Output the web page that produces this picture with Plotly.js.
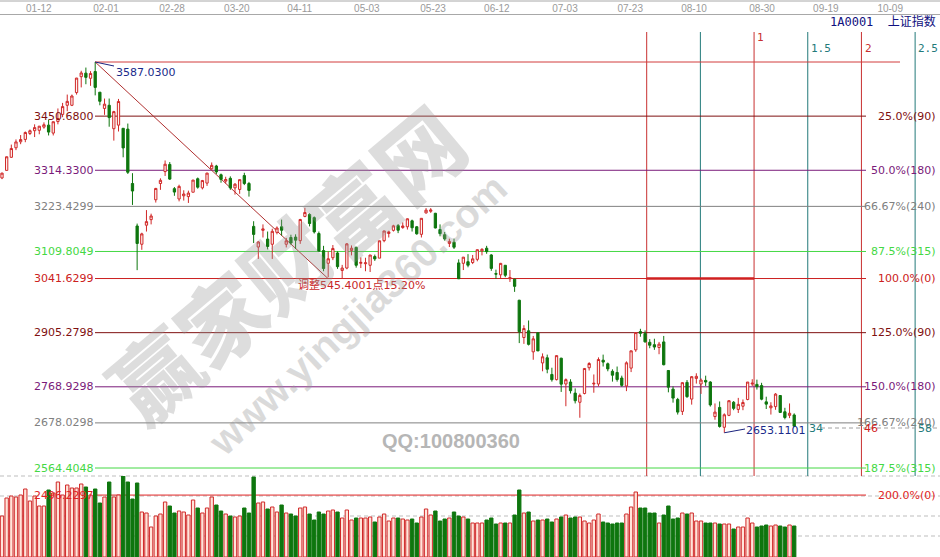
<!DOCTYPE html>
<html><head><meta charset="utf-8">
<script src="https://cdn.plot.ly/plotly-3.0.1.min.js"></script>
<style>html,body{margin:0;padding:0;background:#fff;}#chart{width:940px;height:557px;}</style>
</head><body><div id="chart"></div>
<script>
// ---- data (上证指数 daily, 2017-12-29 .. 2018-09-10) ----
const open = [3295,3314,3347,3371,3386,3392,3407,3414,3415,3423,
3428,3408,3437,3455,3478,3478,3510,3550,3559,3546,
3563,3511,3470,3478,3419,3428,3420,3418,3281,3174,
3128,3176,3190,3240,3281,3311,3329,3268,3242,3250,
3248,3259,3293,3270,3282,3318,3325,3303,3287,3294,
3270,3266,3301,3281,3173,3121,3163,3141,3128,3158,
3172,3128,3145,3146,3137,3198,3203,3195,3155,3112,
3080,3094,3106,3062,3068,3112,3120,3080,3079,3075,
3097,3093,3137,3155,3163,3175,3170,3172,3187,3172,
3153,3207,3211,3206,3165,3152,3130,3133,3081,3080,
3084,3082,3090,3111,3118,3101,3054,3051,3075,3041,
3040,2987,2893,2910,2857,2905,2829,2842,2800,2787,
2841,2776,2781,2753,2730,2752,2817,2776,2776,2836,
2827,2808,2805,2791,2771,2816,2862,2908,2903,2881,
2875,2868,2882,2810,2763,2737,2707,2780,2738,2790,
2776,2785,2781,2694,2717,2667,2697,2730,2712,2720,
2737,2776,2775,2772,2731,2716,2719,2747,2706,2697,
2698];
const high = [3308,3349,3379,3392,3403,3412,3417,3430,3426,3435,
3442,3437,3470,3484,3505,3505,3547,3565,3573,3564,
3587.03,3511,3495,3495,3464,3494,3420,3432,3307,3180,
3157,3214,3205,3270,3294,3339,3335,3272,3278,3264,
3263,3290,3296,3290,3308,3334,3328,3306,3298,3299,
3282,3291,3308,3285,3186,3136,3178,3160,3167,3173,
3190,3144,3152,3153,3192,3220,3206,3198,3160,3124,
3110,3126,3110,3076,3131,3125,3122,3095,3094,3101,
3102,3137,3162,3162,3177,3179,3183,3193,3190,3174,
3194,3219,3219,3207,3178,3159,3142,3142,3090,3096,
3103,3101,3115,3118,3124,3103,3064,3081,3075,3063,
3041,2988,2924,2936,2897,2906,2853,2850,2817,2848,
2842,2790,2788,2765,2752,2816,2831,2800,2843,2850,
2830,2813,2820,2797,2833,2860,2906,2915,2911,2889,
2890,2882,2897,2811,2770,2741,2780,2786,2796,2803,
2790,2797,2783,2727,2732,2702,2735,2733,2741,2737,
2781,2788,2787,2779,2744,2730,2753,2748,2716,2727,
2702];
const low = [3292,3314,3346,3365,3380,3385,3403,3398,3405,3419,
3402,3402,3430,3448,3463,3476,3505,3523,3531,3527,
3503,3478,3454,3424,3389,3412,3347,3305,3227,3062.74,
3114,3160,3178,3233,3265,3300,3290,3250,3236,3238,
3232,3259,3268,3266,3275,3316,3305,3283,3281,3265,
3253,3255,3277,3248,3131,3091,3145,3115,3091,3153,
3150,3120,3127,3116,3129,3196,3173,3155,3110,3060,
3045,3088,3066,3041,3065,3100,3069,3068,3060,3058,
3086,3093,3133,3145,3160,3156,3167,3165,3160,3152,
3145,3205,3207,3168,3148,3137,3121,3116,3041,3063,
3070,3078,3085,3100,3104,3061,3041,3043,3045,3033,
3008,2879,2877,2873,2837,2859,2808,2803,2782,2785,
2756,2720,2752,2727,2691,2750,2810,2754,2770,2820,
2808,2782,2782,2769,2758,2806,2857,2895,2880,2866,
2862,2851,2823,2755,2729,2699,2698,2741,2724,2777,
2751,2771,2719,2686,2666,2653.11,2695,2710,2703,2710,
2735,2771,2762,2735,2713,2699,2711,2703,2687,2690,
2669];
const close = [3307.17,3348.33,3369.11,3385.71,3391.75,3409.48,3413.90,3421.83,3425.34,3428.94,
3410.49,3436.59,3444.67,3474.75,3487.86,3501.36,3546.50,3559.47,3548.31,3558.13,
3523.00,3488.01,3480.83,3446.98,3462.08,3487.50,3370.65,3309.26,3262.05,3129.85,
3154.13,3184.96,3199.16,3268.56,3289.02,3329.57,3292.07,3259.41,3273.75,3254.53,
3256.93,3289.64,3271.67,3288.41,3307.17,3326.70,3310.24,3291.38,3291.11,3269.88,
3279.25,3290.64,3280.95,3263.48,3152.76,3133.72,3166.65,3122.29,3160.53,3168.90,
3163.18,3136.63,3131.11,3138.29,3190.32,3208.08,3180.16,3159.05,3110.65,3066.80,
3091.40,3117.38,3071.54,3068.01,3128.93,3117.97,3075.03,3082.23,3081.18,3100.86,
3091.03,3136.65,3161.50,3159.15,3174.41,3163.26,3174.03,3192.12,3169.57,3154.28,
3193.30,3213.84,3214.35,3168.96,3154.65,3141.30,3135.08,3120.46,3041.00,3095.47,
3075.14,3091.19,3114.21,3115.18,3109.50,3067.15,3052.78,3079.80,3049.80,3044.16,
3021.90,2907.82,2915.73,2875.81,2889.76,2859.34,2844.51,2813.18,2786.90,2847.42,
2775.56,2786.89,2759.13,2733.88,2747.23,2815.11,2827.63,2777.77,2837.66,2831.18,
2814.04,2798.13,2787.26,2772.55,2829.27,2859.54,2905.56,2903.65,2882.23,2873.59,
2869.05,2876.40,2824.53,2768.02,2740.44,2705.16,2779.37,2744.07,2794.38,2795.31,
2785.87,2780.96,2723.26,2705.19,2668.97,2698.47,2733.95,2714.61,2724.62,2729.43,
2780.90,2777.98,2769.30,2737.74,2725.25,2720.73,2750.58,2704.34,2691.59,2702.30,
2669.48];
const volume = [41,59,61,60,62,68,56,61,51,51,
67,64,75,62,72,69,69,73,70,62,
68,54,60,75,60,62,81,75,58,74,
45,44,30,41,43,55,51,44,46,45,
42,57,49,44,49,60,52,46,43,41,
40,41,49,44,80,54,55,48,50,45,
52,44,43,41,49,50,43,37,45,43,
46,47,45,39,47,37,39,39,39,40,
35,40,43,36,39,39,38,37,38,34,
40,48,42,46,36,38,39,45,41,40,
38,34,34,34,37,39,33,34,34,34,
42,67,44,45,36,37,37,38,35,38,
40,42,39,40,40,36,34,37,43,35,
34,33,34,34,43,50,65,49,49,44,
44,34,42,51,38,39,44,43,44,36,
36,34,34,34,33,33,33,28,30,30,
39,34,30,31,32,31,32,31,30,32,
31];
const tickLabels = ['01-12','02-01','02-28','03-20','04-11','05-03','05-23','06-12','07-03','07-23','08-10','08-30','09-19','10-09'];
const tickPos = [7.9,22.3,36.5,50.4,63.9,78.3,92.5,106.2,120.8,134.8,148.5,163.1,176.8,190.6];

const fibPrice = [3587.03,3450.68,3314.33,3223.4299,3109.8049,3041.6299,2905.2798,2768.9298,2678.0298,2564.4048,2496.2297];
const fibLeft  = ['','3450.6800','3314.3300','3223.4299','3109.8049','3041.6299','2905.2798','2768.9298','2678.0298','2564.4048','2496.2297'];
const fibRight = ['','25.0%(90)','50.0%(180)','66.67%(240)','87.5%(315)','100.0%(0)','125.0%(90)','150.0%(180)','166.67%(240)','187.5%(315)','200.0%(0)'];
const cycleRatio = [0,0.5,1,1.5,2,2.5];
const cycleLabel = ['','','1','1.5','2','2.5'];
const peakText = '3587.0300';
const lowText = '2653.1101';
const adjustText = '调整545.4001点15.20%';
const countLabels = ['34','46','58'];
const titleText = '1A0001  上证指数';

// ---- styles / geometry ----
const fibColor = ['#d23c3c','#7f1010','#7a1a7a','#808080','#44d844','#cc2020','#7f1010','#7a1a7a','#808080','#44d844','#e02424'];
const W = 940, H = 557;
const PX = 4.66, X0 = 2;            // candle spacing
const idxAt = px => (px - X0) / PX;
const PS = 2.518781;                // price units per pixel
const priceAt = py => 3587.03 - (py - 62) * PS;
const py2paper = py => 1 - py / H;
const idx = open.map((_, i) => i);
const up = idx.map(i => close[i] >= open[i]);
const RED = '#d02828', GREEN = '#0e760e';

const shapes = [];
const annotations = [];
// top frame lines
[1, 14.5].forEach(py => shapes.push({type:'line', xref:'paper', yref:'paper', x0:0, x1:1, y0:py2paper(py), y1:py2paper(py), line:{color:'#a8a8a8', width:1}, layer:'below'}));
// volume area dashed grid
[476, 496, 516, 536].forEach(py => shapes.push({type:'line', xref:'paper', yref:'paper', x0:0, x1:1, y0:py2paper(py), y1:py2paper(py), line:{color:'#bdbdbd', width:1, dash:'4px,3px'}, layer:'below'}));
// fib time cycle verticals
const cycBase = idxAt(646.7), cycUnit = 23.04;
cycleRatio.forEach((r, k) => {
  const xv = cycBase + r * cycUnit;
  const col = (k % 2 === 0) ? '#c83030' : '#237a7a';
  shapes.push({type:'line', xref:'x', yref:'paper', x0:xv, x1:xv, y0:py2paper(476), y1:py2paper(32), line:{color:col, width:1}, layer:'below'});
  if (cycleLabel[k]) annotations.push({xref:'x', yref:'paper', x:xv + 0.25, y:py2paper(k === 2 ? 38 : 48), xanchor:'left', yanchor:'middle', showarrow:false, text:cycleLabel[k], font:{family:'DejaVu Sans Mono', size:11, color:col}});
});
// fib price levels
fibPrice.forEach((p, i) => {
  shapes.push({type:'line', xref:'x', yref:'y', x0:idxAt(95), x1:idxAt(i === 0 ? 900 : 866), y0:p, y1:p, line:{color:fibColor[i], width:1}, layer:'below'});
  if (fibLeft[i]) annotations.push({xref:'x', yref:'y', x:idxAt(95), y:p, xanchor:'right', yanchor:'middle', showarrow:false, borderpad:0, text:fibLeft[i], font:{size:11, color:fibColor[i]}});
  if (fibRight[i]) annotations.push({xref:'paper', yref:'y', x:937 / W, y:p, xanchor:'right', yanchor:'middle', showarrow:false, borderpad:0, text:fibRight[i], font:{size:11, color:fibColor[i]}});
});
// thick 100% segment between cycle 0 and 1
shapes.push({type:'line', xref:'x', yref:'y', x0:cycBase, x1:cycBase + cycUnit, y0:fibPrice[5], y1:fibPrice[5], line:{color:'#d02020', width:2.5}, layer:'below'});
// diagonal retracement line
shapes.push({type:'line', xref:'x', yref:'y', x0:20, x1:idxAt(328), y0:high[20], y1:fibPrice[5], line:{color:'#b03030', width:1}, layer:'below'});
// peak marker
shapes.push({type:'line', xref:'x', yref:'y', x0:20, x1:idxAt(114), y0:high[20], y1:priceAt(66), line:{color:'#1a237e', width:1}});
annotations.push({xref:'x', yref:'y', x:idxAt(115), y:priceAt(72), xanchor:'left', yanchor:'middle', showarrow:false, borderpad:0, text:peakText, font:{size:11, color:'#1a2a8a'}});
// low marker
shapes.push({type:'line', xref:'x', yref:'y', x0:155, x1:idxAt(745), y0:low[155], y1:priceAt(429), line:{color:'#1a237e', width:1}});
annotations.push({xref:'x', yref:'y', x:idxAt(745), y:priceAt(430), xanchor:'left', yanchor:'middle', showarrow:false, borderpad:0, text:lowText, font:{size:11, color:'#1a2a8a'}});
shapes.push({type:'line', xref:'x', yref:'y', x0:idxAt(821), x1:idxAt(938), y0:priceAt(428), y1:priceAt(428), line:{color:'#a0a0a0', width:1, dash:'4px,3px'}});
[[808,'#237a7a'],[863,'#d02020'],[917,'#237a7a']].forEach((c, k) => annotations.push({xref:'x', yref:'y', x:idxAt(c[0]), y:priceAt(428), xanchor:'left', yanchor:'middle', showarrow:false, borderpad:0, text:countLabels[k], font:{size:11, color:c[1]}}));
// adjust text
annotations.push({xref:'x', yref:'y', x:idxAt(297), y:priceAt(285), xanchor:'left', yanchor:'middle', showarrow:false, borderpad:0, text:adjustText, font:{size:11, color:'#c82828'}});
// title
annotations.push({xref:'paper', yref:'paper', x:937 / W, y:py2paper(22), xanchor:'right', yanchor:'middle', showarrow:false, borderpad:0, text:titleText, font:{family:'DejaVu Sans Mono, Noto Sans CJK SC', size:12, color:'#101080'}});
// watermarks
annotations.push({xref:'paper', yref:'paper', x:285 / W, y:py2paper(262), xanchor:'center', yanchor:'middle', showarrow:false, textangle:-40, text:'赢家财富网', font:{family:'Noto Sans CJK SC', size:86, weight:900, color:'rgba(150,150,150,0.32)'}});
annotations.push({xref:'paper', yref:'paper', x:357 / W, y:py2paper(315), xanchor:'center', yanchor:'middle', showarrow:false, textangle:-43, text:'www.yingjia360.com', font:{family:'Liberation Sans', size:40, weight:700, color:'rgba(150,150,150,0.34)'}});
annotations.push({xref:'paper', yref:'paper', x:451 / W, y:py2paper(441), xanchor:'center', yanchor:'middle', showarrow:false, text:'QQ:100800360', font:{family:'Liberation Sans', size:20, weight:700, color:'#b6b6b6'}});

const traces = [
  {type:'candlestick', x:idx, open:open, high:high, low:low, close:close, xaxis:'x', yaxis:'y',
   increasing:{line:{color:RED, width:1}, fillcolor:'#fff3f0'},
   decreasing:{line:{color:GREEN, width:1}, fillcolor:GREEN},
   whiskerwidth:0, hoverinfo:'skip', showlegend:false},
  {type:'bar', x:idx, y:volume, xaxis:'x', yaxis:'y2',
   marker:{color:up.map(u => u ? '#ffe4da' : GREEN), line:{color:up.map(u => u ? RED : GREEN), width:1}},
   hoverinfo:'skip', showlegend:false}
];

const layout = {
  width:W, height:H, margin:{l:0, r:0, t:0, b:0, pad:0},
  paper_bgcolor:'#ffffff', plot_bgcolor:'rgba(0,0,0,0)', showlegend:false,
  font:{family:'DejaVu Sans, Noto Sans CJK SC, sans-serif', size:11},
  bargap:0.28,
  xaxis:{range:[idxAt(0), idxAt(W)], side:'top', anchor:'y', tickvals:tickPos, ticktext:tickLabels,
         tickfont:{family:'Liberation Sans, Arial', size:10, color:'#9a9a9a'}, ticks:'', showgrid:false,
         zeroline:false, showline:false, rangeslider:{visible:false}, fixedrange:true},
  yaxis:{domain:[0, 1 - 15 / H], range:[priceAt(H), priceAt(15)], visible:false, fixedrange:true},
  yaxis2:{domain:[0, 81 / H], range:[0, 81], visible:false, anchor:'x', fixedrange:true},
  shapes:shapes, annotations:annotations
};
Plotly.newPlot('chart', traces, layout, {staticPlot:true, displayModeBar:false});
</script></body></html>
